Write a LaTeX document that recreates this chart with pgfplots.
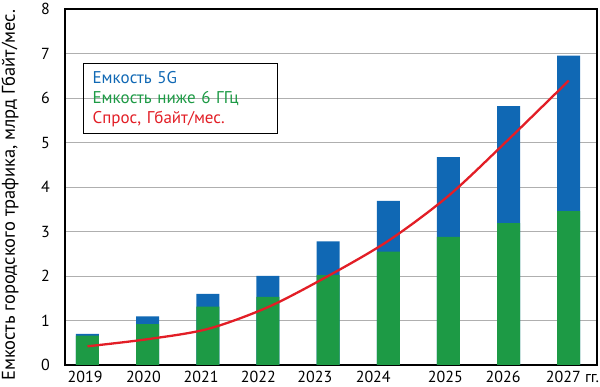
\documentclass[border=0pt]{standalone}
\usepackage{pgfplots}
\pgfplotsset{compat=1.18}
\usepackage{fontspec}
\setmainfont{PT Sans}
\definecolor{cblue}{RGB}{16,104,180}
\definecolor{cgreen}{RGB}{29,154,69}
\definecolor{cred}{RGB}{226,30,38}
\definecolor{cgrid}{RGB}{175,175,175}
\begin{document}
\begin{tikzpicture}[font=\fontsize{16}{19}\selectfont]
\begin{axis}[
  scale only axis, width=532pt, height=356pt,
  xmin=-0.374, xmax=8.47, ymin=0, ymax=8,
  ytick={0,1,2,3,4,5,6,7,8},
  xtick={-0.04,0.93,1.89,2.84,3.78,4.75,5.95,6.91,7.91},
  xticklabels={2019,2020,2021,2022,2023,2024,2025,2026,{2027\rlap{ гг.}}},
  major tick length=0pt,
  /pgf/number format/assume math mode=true,
  ymajorgrids,
  grid style={cgrid, line width=0.9pt},
  axis line style={line width=1.6pt, black},
  yticklabel style={anchor=east, inner sep=0pt, xshift=-15pt, font=\fontsize{16}{19}\selectfont},
  xticklabel style={anchor=north, inner sep=0pt, yshift=-5.5pt, font=\fontsize{16}{19}\selectfont},
  clip=false,
]
% total = green + 5G
\addplot[ybar, bar width=23pt, bar shift=0pt, fill=cblue, draw=none] coordinates {
  (0,0.70) (1,1.09) (2,1.60) (3,2.00) (4,2.78) (5,3.69) (6,4.67) (7,5.82) (8,6.95)};
% below 6 GHz
\addplot[ybar, bar width=23pt, bar shift=0pt, fill=cgreen, draw=none] coordinates {
  (0,0.66) (1,0.92) (2,1.31) (3,1.53) (4,2.02) (5,2.55) (6,2.88) (7,3.19) (8,3.46)};
% demand
\addplot[smooth, cred, line width=2.3pt, mark=none] coordinates {
  (0,0.42) (1,0.58) (2,0.81) (3,1.30) (4,2.00) (5,2.79) (6,3.80) (7,5.07) (8,6.39)};
\node[draw=black, line width=1.3pt, anchor=north west, minimum width=194pt,
      minimum height=70pt, inner xsep=9pt, inner ysep=0pt, text width=176pt,
      align=left, font=\fontsize{17}{20}\selectfont]
  at (axis description cs:0.0338,0.848)
  {\textcolor{cblue}{Емкость 5G}\\\textcolor{cgreen}{Емкость ниже 6 ГГц}\\\textcolor{cred}{Спрос, Гбайт/мес.}};
\end{axis}
\node[rotate=90, anchor=base west, inner sep=0pt, font=\fontsize{18.5}{21}\selectfont]
  at (-50pt,-16pt) {Емкость городского трафика, млрд Гбайт/мес.};
\pgfresetboundingbox
\path (-65pt,-22pt) rectangle (535pt,365pt);
\end{tikzpicture}
\end{document}
